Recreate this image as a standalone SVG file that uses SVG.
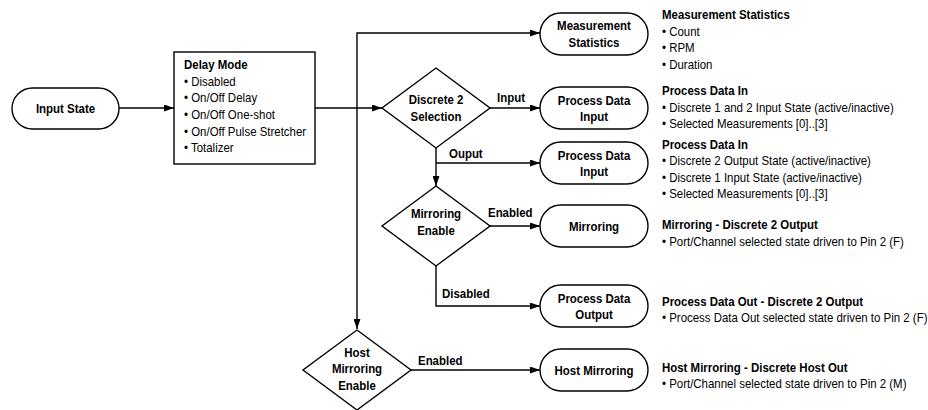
<svg xmlns="http://www.w3.org/2000/svg" width="928" height="410" viewBox="0 0 928 410">
<style>
text{font-family:"Liberation Sans",Arial,sans-serif;font-size:13.4px;fill:#000}
.b{font-weight:bold}
.c{text-anchor:middle;font-weight:bold}
.n{fill:#fff;stroke:#000;stroke-width:1.4}
.e{fill:none;stroke:#000;stroke-width:1.4}
</style>
<defs>
<marker id="ah" viewBox="0 0 10 7" refX="10" refY="3.5" markerWidth="10" markerHeight="7" markerUnits="userSpaceOnUse" orient="auto">
<path d="M0,0 L10,3.5 L0,7 z" fill="#000"/>
</marker>
</defs>
<g id="connectors">
<path class="e" d="M119,108 H174" marker-end="url(#ah)"/>
<path class="e" d="M315,108 H382" marker-end="url(#ah)"/>
<path class="e" d="M357,108 V33 H540" marker-end="url(#ah)"/>
<path class="e" d="M357,108 V329" marker-end="url(#ah)"/>
<path class="e" d="M489,108 H540" marker-end="url(#ah)"/>
<path class="e" d="M436,148 V186" marker-end="url(#ah)"/>
<path class="e" d="M436,163 H540" marker-end="url(#ah)"/>
<path class="e" d="M489,226 H540" marker-end="url(#ah)"/>
<path class="e" d="M436,266 V306 H540" marker-end="url(#ah)"/>
<path class="e" d="M411,370 H540" marker-end="url(#ah)"/>
<text class="b" transform="translate(497,102) scale(.855,1)">Input</text>
<text class="b" transform="translate(449,158) scale(.855,1)">Ouput</text>
<text class="b" transform="translate(488,217) scale(.855,1)">Enabled</text>
<text class="b" transform="translate(442,298) scale(.855,1)">Disabled</text>
<text class="b" transform="translate(418,365) scale(.855,1)">Enabled</text>
</g>
<g id="input-state">
<rect class="n" x="12" y="88" width="107" height="41" rx="20.5"/>
<text class="c" transform="translate(65.5,113) scale(.855,1)">Input State</text>
</g>
<g id="delay-mode">
<rect class="n" x="174" y="52" width="141" height="112"/>
<text class="b" transform="translate(184,69) scale(.855,1)">Delay Mode</text>
<text transform="translate(184,85.7) scale(.855,1)">• Disabled</text>
<text transform="translate(184,102.3) scale(.855,1)">• On/Off Delay</text>
<text transform="translate(184,119) scale(.855,1)">• On/Off One-shot</text>
<text transform="translate(184,135.6) scale(.855,1)">• On/Off Pulse Stretcher</text>
<text transform="translate(184,152.2) scale(.855,1)">• Totalizer</text>
</g>
<g id="discrete2-selection">
<polygon class="n" points="436,68 490,108 436,148 382,108"/>
<text class="c" transform="translate(436,104) scale(.855,1)">Discrete 2</text>
<text class="c" transform="translate(436,120.5) scale(.855,1)">Selection</text>
</g>
<g id="mirroring-enable">
<polygon class="n" points="436,186 490,226 436,266 382,226"/>
<text class="c" transform="translate(436,218) scale(.855,1)">Mirroring</text>
<text class="c" transform="translate(436,234.5) scale(.855,1)">Enable</text>
</g>
<g id="host-mirroring-enable">
<polygon class="n" points="357,330 411,370 357,410 303,370"/>
<text class="c" transform="translate(357,357) scale(.855,1)">Host</text>
<text class="c" transform="translate(357,373.3) scale(.855,1)">Mirroring</text>
<text class="c" transform="translate(357,389.6) scale(.855,1)">Enable</text>
</g>
<g id="measurement-statistics">
<rect class="n" x="540" y="13" width="108" height="42" rx="21"/>
<text class="c" transform="translate(594,30) scale(.855,1)">Measurement</text>
<text class="c" transform="translate(594,46.5) scale(.855,1)">Statistics</text>
</g>
<g id="pdi-1">
<rect class="n" x="540" y="87" width="108" height="42" rx="21"/>
<text class="c" transform="translate(594,104.5) scale(.855,1)">Process Data</text>
<text class="c" transform="translate(594,121) scale(.855,1)">Input</text>
</g>
<g id="pdi-2">
<rect class="n" x="540" y="142" width="108" height="42" rx="21"/>
<text class="c" transform="translate(594,159.5) scale(.855,1)">Process Data</text>
<text class="c" transform="translate(594,176) scale(.855,1)">Input</text>
</g>
<g id="mirroring">
<rect class="n" x="540" y="205" width="108" height="42" rx="21"/>
<text class="c" transform="translate(594,230.7) scale(.855,1)">Mirroring</text>
</g>
<g id="pdo">
<rect class="n" x="540" y="285" width="108" height="42" rx="21"/>
<text class="c" transform="translate(594,302.5) scale(.855,1)">Process Data</text>
<text class="c" transform="translate(594,319) scale(.855,1)">Output</text>
</g>
<g id="host-mirroring">
<rect class="n" x="540" y="349" width="108" height="42" rx="21"/>
<text class="c" transform="translate(594,374.7) scale(.855,1)">Host Mirroring</text>
</g>
<g id="desc-measurement">
<text class="b" transform="translate(662,19) scale(.855,1)">Measurement Statistics</text>
<text transform="translate(662,35.5) scale(.855,1)">• Count</text>
<text transform="translate(662,52) scale(.855,1)">• RPM</text>
<text transform="translate(662,68.5) scale(.855,1)">• Duration</text>
</g>
<g id="desc-pdi-1">
<text class="b" transform="translate(662,95) scale(.855,1)">Process Data In</text>
<text transform="translate(662,111.5) scale(.855,1)">• Discrete 1 and 2 Input State (active/inactive)</text>
<text transform="translate(662,128) scale(.855,1)">• Selected Measurements [0]..[3]</text>
</g>
<g id="desc-pdi-2">
<text class="b" transform="translate(662,148.5) scale(.855,1)">Process Data In</text>
<text transform="translate(662,165) scale(.855,1)">• Discrete 2 Output State (active/inactive)</text>
<text transform="translate(662,181.5) scale(.855,1)">• Discrete 1 Input State (active/inactive)</text>
<text transform="translate(662,198) scale(.855,1)">• Selected Measurements [0]..[3]</text>
</g>
<g id="desc-mirroring">
<text class="b" transform="translate(662,229) scale(.855,1)">Mirroring - Discrete 2 Output</text>
<text transform="translate(662,245.5) scale(.855,1)">• Port/Channel selected state driven to Pin 2 (F)</text>
</g>
<g id="desc-pdo">
<text class="b" transform="translate(662,305.5) scale(.855,1)">Process Data Out - Discrete 2 Output</text>
<text transform="translate(662,322) scale(.855,1)">• Process Data Out selected state driven to Pin 2 (F)</text>
</g>
<g id="desc-host">
<text class="b" transform="translate(662,371.5) scale(.855,1)">Host Mirroring - Discrete Host Out</text>
<text transform="translate(662,388) scale(.855,1)">• Port/Channel selected state driven to Pin 2 (M)</text>
</g>
</svg>
